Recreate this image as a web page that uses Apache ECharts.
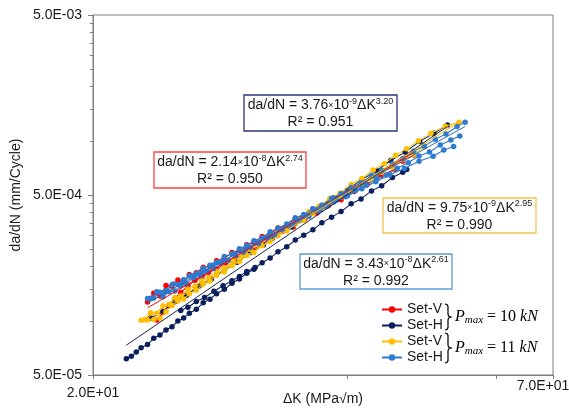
<!DOCTYPE html>
<html>
<head>
<meta charset="utf-8">
<script src="https://cdn.jsdelivr.net/npm/echarts@6/dist/echarts.min.js"></script>
<style>
  html, body { margin: 0; padding: 0; background: #fff; }
  #chart { width: 569px; height: 412px; }
</style>
</head>
<body>
<div id="chart"></div>
<script>
// Fatigue crack growth rate da/dN (mm/cycle) against ΔK (MPa√m), one pair of arrays per specimen run.

// Set-V, Pmax = 10 kN
const setV10_K_a = [23.2,23.6,24.0,24.4,24.8,25.2,25.6,26.0,26.5,27.0,27.5,28.0,28.6,29.2,29.8,30.4,31.0,31.7,32.4,33.1,33.9,34.7,35.5,36.4,37.3,38.3,39.3,40.4,41.5,42.7,43.9,45.2,46.5,47.9];
const setV10_rate_a = [1.274e-4,1.422e-4,1.372e-4,1.571e-4,1.558e-4,1.687e-4,1.669e-4,1.806e-4,1.852e-4,1.984e-4,2.012e-4,2.153e-4,2.219e-4,2.393e-4,2.460e-4,2.648e-4,2.715e-4,2.942e-4,3.034e-4,3.280e-4,3.401e-4,3.697e-4,3.860e-4,4.175e-4,4.377e-4,4.754e-4,5.003e-4,5.448e-4,5.746e-4,6.276e-4,6.637e-4,7.264e-4,7.693e-4,8.346e-4];
const setV10_K_b = [23.4,23.8,24.2,24.6,25.0,25.4,25.9,26.4,26.9,27.4,28.0,28.7,29.4,30.1,30.9,31.7,32.6,33.5,34.5,35.6,36.8,38.0,39.3,40.7,42.2,43.8,45.5];
const setV10_rate_b = [1.039e-4,1.012e-4,1.113e-4,1.219e-4,1.332e-4,1.437e-4,1.564e-4,1.681e-4,1.735e-4,1.862e-4,1.936e-4,2.092e-4,2.190e-4,2.360e-4,2.484e-4,2.692e-4,2.877e-4,3.132e-4,3.325e-4,3.662e-4,3.969e-4,4.380e-4,4.702e-4,5.230e-4,5.714e-4,6.394e-4,6.952e-4];

// Set-H, Pmax = 10 kN
const setH10_K_a = [21.9,22.2,22.5,22.8,23.2,23.6,24.0,24.4,24.8,25.2,25.6,26.0,26.5,27.0,27.5,28.0,28.6,29.2,29.8,30.4,31.0,31.7,32.4,33.1,33.9,34.7,35.5,36.4,37.3,38.3,39.3,40.4,41.5,42.7,43.9,45.2,46.5,47.0];
const setH10_rate_a = [6.150e-5,6.347e-5,6.706e-5,7.079e-5,7.396e-5,7.996e-5,8.342e-5,8.899e-5,9.265e-5,9.981e-5,1.0376e-4,1.1030e-4,1.1588e-4,1.2586e-4,1.3195e-4,1.4139e-4,1.4960e-4,1.6170e-4,1.7065e-4,1.8398e-4,1.9362e-4,2.1036e-4,2.2304e-4,2.4160e-4,2.5779e-4,2.8096e-4,2.9882e-4,3.2007e-4,3.5012e-4,3.7671e-4,4.0425e-4,4.4668e-4,4.7553e-4,5.2709e-4,5.6252e-4,6.2487e-4,6.6795e-4,6.918e-4];
const setH10_K_b = [25.4,25.9,26.5,27.1,27.8,28.5,29.2,29.8,30.4,31.1];
const setH10_rate_b = [1.142e-4,1.190e-4,1.280e-4,1.346e-4,1.461e-4,1.565e-4,1.672e-4,1.765e-4,1.882e-4,1.979e-4];
const setH10_K_c = [23.4,24.2,25.0,25.8,26.7,27.6,28.6,29.6,30.7,31.8,33.0,34.3,35.6,37.0,38.5,40.0,41.6,43.3,45.0,46.8,48.7,50.6,52.5];
const setH10_rate_c = [1.032e-4,1.129e-4,1.275e-4,1.386e-4,1.560e-4,1.704e-4,1.926e-4,2.112e-4,2.396e-4,2.633e-4,2.991e-4,3.324e-4,3.779e-4,4.198e-4,4.812e-4,5.337e-4,6.106e-4,6.814e-4,7.777e-4,8.653e-4,9.927e-4,1.100e-3,1.226e-3];

// Set-V, Pmax = 11 kN
const setV11_K_a = [22.8,23.2,23.6,24.0,24.4,24.8,25.2,25.6,26.0,26.5,27.0,27.5,28.0,28.6,29.2,29.8,30.4,31.0,31.7,32.4,33.1,33.9,34.7,35.5,36.4,37.3,38.3,39.3,40.4,41.5,42.7,43.9,45.2,46.5,47.9,49.3];
const setV11_rate_a = [1.008e-4,1.009e-4,1.018e-4,1.035e-4,1.123e-4,1.216e-4,1.288e-4,1.321e-4,1.412e-4,1.478e-4,1.595e-4,1.666e-4,1.793e-4,1.870e-4,2.029e-4,2.133e-4,2.308e-4,2.396e-4,2.613e-4,2.759e-4,2.968e-4,3.153e-4,3.446e-4,3.613e-4,3.928e-4,4.179e-4,4.565e-4,4.876e-4,5.238e-4,5.726e-4,6.102e-4,6.692e-4,7.142e-4,7.847e-4,8.389e-4,9.230e-4];
const setV11_K_b = [23.0,23.4,23.8,24.2,24.6,25.0,25.4,25.9,26.4,26.9,27.4,28.0,28.6,29.3,30.0,30.7,31.5,32.3,33.2,34.1,35.0,36.0,37.0,38.1,39.2,40.4,41.6,42.9,44.2,45.6,47.0,48.5,50.2,52.2,54.2];
const setV11_rate_b = [1.014e-4,1.110e-4,1.100e-4,1.213e-4,1.237e-4,1.349e-4,1.373e-4,1.498e-4,1.553e-4,1.674e-4,1.734e-4,1.884e-4,1.967e-4,2.154e-4,2.287e-4,2.496e-4,2.642e-4,2.899e-4,3.115e-4,3.404e-4,3.641e-4,4.032e-4,4.330e-4,4.766e-4,5.135e-4,5.719e-4,6.176e-4,6.890e-4,7.457e-4,8.327e-4,9.022e-4,9.992e-4,1.100e-3,1.206e-3,1.270e-3];

// Set-H, Pmax = 11 kN
const setH11_K_a = [23.2,23.6,24.0,24.4,24.8,25.2,25.6,26.0,26.5,27.0,27.5,28.0,28.6,29.2,29.8,30.4,31.0,31.7,32.4,33.1,33.9,34.7,35.5,36.4,37.3,38.3,39.3,40.4,41.5,42.7,43.9,45.2,46.5,47.9,49.3,50.8,52.3,53.9,55.1];
const setH11_rate_a = [1.332e-4,1.340e-4,1.442e-4,1.476e-4,1.586e-4,1.590e-4,1.690e-4,1.777e-4,1.831e-4,1.960e-4,2.036e-4,2.115e-4,2.279e-4,2.360e-4,2.512e-4,2.620e-4,2.784e-4,2.895e-4,3.125e-4,3.272e-4,3.449e-4,3.738e-4,3.890e-4,4.194e-4,4.382e-4,4.790e-4,5.075e-4,5.505e-4,5.847e-4,6.423e-4,6.838e-4,7.451e-4,7.949e-4,8.753e-4,9.344e-4,1.020e-3,1.091e-3,1.202e-3,1.270e-3];
const setH11_K_b = [24.2,24.6,25.0,25.4,25.8,26.3,26.8,27.3,27.8,28.3,28.9,29.5,30.1,30.7,31.4,32.1,32.8,33.5,34.3,35.1,36.0,36.9,37.8,38.8,39.8,40.9,42.1,43.3,44.5,45.8,47.2,48.6,50.0,51.5,53.0,54.3];
const setH11_rate_b = [1.361e-4,1.449e-4,1.466e-4,1.560e-4,1.608e-4,1.727e-4,1.776e-4,1.884e-4,1.955e-4,2.090e-4,2.163e-4,2.306e-4,2.405e-4,2.558e-4,2.686e-4,2.874e-4,2.979e-4,3.213e-4,3.382e-4,3.630e-4,3.799e-4,4.093e-4,4.315e-4,4.668e-4,4.886e-4,5.300e-4,5.656e-4,6.151e-4,6.468e-4,7.048e-4,7.545e-4,8.227e-4,8.674e-4,9.475e-4,1.010e-3,1.065e-3];
const setH11_K_c = [23.4,23.8,24.3,24.9,25.5,26.2,26.9,27.7,28.5,29.4,30.3,31.3,32.3,33.4,34.6,35.8,37.1,38.5,40.0,41.6,43.2,44.9,46.7,48.6,50.5,52.0,53.4];
const setH11_rate_c = [1.336e-4,1.452e-4,1.446e-4,1.603e-4,1.625e-4,1.778e-4,1.849e-4,2.036e-4,2.129e-4,2.355e-4,2.497e-4,2.746e-4,2.921e-4,3.221e-4,3.460e-4,3.822e-4,4.109e-4,4.574e-4,4.950e-4,5.423e-4,5.922e-4,6.480e-4,7.025e-4,7.707e-4,8.200e-4,8.884e-4,9.299e-4];

// Paris-law fits da/dN = C·ΔK^m, in the order red, navy, yellow, blue
const fitC  = [2.14e-8, 3.76e-9, 9.75e-9, 3.43e-8];
const fitM  = [2.74, 3.20, 2.95, 2.61];
const fitR2 = [0.950, 0.951, 0.990, 0.992];

// Axis ticks and labels
const xTickValues  = [20, 40, 60, 70];
const xLabelValues = [20, 70];
const xLabelTexts  = ['2.0E+01', '7.0E+01'];
const yLabelValues = [5e-5, 5e-4, 5e-3];
const yLabelTexts  = ['5.0E-05', '5.0E-04', '5.0E-03'];
const yMinorTicks  = [1e-4,1.5e-4,2e-4,2.5e-4,3e-4,3.5e-4,4e-4,4.5e-4,1e-3,1.5e-3,2e-3,2.5e-3,3e-3,3.5e-3,4e-3,4.5e-3];

const legendNames = ['Set-V (10 kN)', 'Set-H (10 kN)', 'Set-V (11 kN)', 'Set-H (11 kN)'];

const groups = [
  { name: legendNames[0], color: '#FF0000', runs: [[setV10_K_a, setV10_rate_a], [setV10_K_b, setV10_rate_b]] },
  { name: legendNames[1], color: '#0B1F5E', runs: [[setH10_K_a, setH10_rate_a], [setH10_K_b, setH10_rate_b], [setH10_K_c, setH10_rate_c]] },
  { name: legendNames[2], color: '#FFC000', runs: [[setV11_K_a, setV11_rate_a], [setV11_K_b, setV11_rate_b]] },
  { name: legendNames[3], color: '#2E7BCF', runs: [[setH11_K_a, setH11_rate_a], [setH11_K_b, setH11_rate_b], [setH11_K_c, setH11_rate_c]] }
];
const trendColors = ['#FF0000', '#1B2550', '#F5B800', '#2A6FB8'];
const boxBorders  = ['#FF4040', '#2B3478', '#F2C24A', '#5B9BD5'];

const FONT = '"Liberation Sans", Arial, sans-serif';
const TEXT = '#1a1a1a';

const series = [];
groups.forEach((g, gi) => {
  g.runs.forEach(([ks, rates]) => {
    series.push({
      name: g.name,
      type: 'line',
      data: ks.map((k, i) => [k, rates[i]]),
      symbol: 'circle',
      symbolSize: 5.5,
      itemStyle: { color: g.color },
      lineStyle: { color: g.color, width: 1.1 },
      z: 2 + gi,
      silent: true
    });
  });
});

// Power-law trend lines across each set's ΔK range (straight on log–log axes)
groups.forEach((g, gi) => {
  const allK = g.runs.reduce((acc, r) => acc.concat(r[0]), []);
  const k0 = Math.min.apply(null, allK), k1 = Math.max.apply(null, allK);
  series.push({
    name: 'trend-' + gi,
    type: 'line',
    data: [[k0, fitC[gi] * Math.pow(k0, fitM[gi])], [k1, fitC[gi] * Math.pow(k1, fitM[gi])]],
    symbol: 'none',
    lineStyle: { color: trendColors[gi], width: 1 },
    z: 10,
    silent: true
  });
});

// Equation boxes
function eqText(i) {
  const parts = fitC[i].toExponential(2).split('e');
  return '{t|da/dN = ' + parts[0] + '}{x|×}{t|10}{s|' + parts[1] + '}{t|ΔK}{s|' + fitM[i].toFixed(2) + '}\n{t|R² = ' + fitR2[i].toFixed(3) + '}';
}
const boxLayout = [
  { x: 154, y: 152, w: 152, h: 36 },
  { x: 244, y: 95,  w: 153, h: 36 },
  { x: 383, y: 198, w: 153, h: 35 },
  { x: 300, y: 254, w: 152, h: 35 }
];
const eqRich = {
  t: { fontSize: 14, fontFamily: FONT, color: TEXT, lineHeight: 17 },
  x: { fontSize: 9, fontFamily: FONT, color: TEXT, lineHeight: 17 },
  s: { fontSize: 9, fontFamily: FONT, color: TEXT, lineHeight: 10, verticalAlign: 'top' }
};
const graphics = [];
boxLayout.forEach((b, i) => {
  graphics.push({
    type: 'rect', z: 100,
    shape: { x: b.x, y: b.y, width: b.w, height: b.h },
    style: { fill: '#fff', stroke: boxBorders[i], lineWidth: 1.3 }
  });
  graphics.push({
    type: 'text', z: 101,
    x: b.x + b.w / 2, y: b.y + b.h / 2 + 1,
    style: { text: eqText(i), rich: eqRich, align: 'center', verticalAlign: 'middle', fill: TEXT }
  });
});

// Braces grouping the legend rows by load level
function bracePoints(x, y0, y1) {
  const ym = (y0 + y1) / 2;
  return [[x, y0], [x + 2, y0 + 0.6], [x + 3, y0 + 2.5], [x + 3, ym - 3], [x + 3.6, ym - 1], [x + 6, ym],
          [x + 3.6, ym + 1], [x + 3, ym + 3], [x + 3, y1 - 2.5], [x + 2, y1 - 0.6], [x, y1]];
}
const pmaxLoads = ['10', '11'];
const SERIF = '"Liberation Serif", "DejaVu Serif", serif';
const pmaxRich = {
  p: { fontSize: 16, fontFamily: SERIF, fontStyle: 'italic', color: TEXT, lineHeight: 18 },
  n: { fontSize: 16, fontFamily: SERIF, color: TEXT, lineHeight: 18 },
  b: { fontSize: 11, fontFamily: SERIF, fontStyle: 'italic', color: TEXT, lineHeight: 10, verticalAlign: 'bottom' }
};
[[304, 330], [333, 363]].forEach((yy, i) => {
  graphics.push({
    type: 'polyline', z: 100,
    shape: { points: bracePoints(445, yy[0], yy[1]) },
    style: { stroke: '#111', fill: null, lineWidth: 1.3 }
  });
  graphics.push({
    type: 'text', z: 100,
    x: 455, y: (yy[0] + yy[1]) / 2,
    style: { text: '{p|P}{b|max}{n| = ' + pmaxLoads[i] + ' }{p|kN}', rich: pmaxRich, verticalAlign: 'middle', align: 'left' }
  });
});

const axisGrey = '#7f7f7f';

const option = {
  animation: false,
  backgroundColor: '#fff',
  grid: {
    left: 93, right: 16, top: 15, bottom: 37,
    containLabel: false, outerBoundsMode: 'none',
    show: true, borderColor: axisGrey, borderWidth: 1, backgroundColor: 'transparent'
  },
  legend: {
    data: legendNames,
    orient: 'vertical',
    left: 381, top: 302, padding: 0,
    itemWidth: 20, itemHeight: 8, itemGap: 1,
    formatter: name => name.replace(/ \(.*\)$/, ''),
    textStyle: { fontSize: 14, fontFamily: FONT, color: TEXT, lineHeight: 15 },
    selectedMode: false
  },
  xAxis: {
    type: 'log', logBase: 10, min: 20, max: 70,
    name: 'ΔK (MPa√m)', nameLocation: 'middle', nameGap: 17, nameMoveOverlap: false,
    nameTextStyle: { fontSize: 14, fontFamily: FONT, color: TEXT },
    axisLine: { show: true, lineStyle: { color: axisGrey, width: 1 } },
    axisTick: { show: true, customValues: xTickValues, length: 4, lineStyle: { color: axisGrey } },
    axisLabel: {
      customValues: xLabelValues, margin: 3, verticalAlign: 'top',
      formatter: v => {
        const i = xLabelValues.findIndex(t => Math.abs(t - v) < 1e-6);
        return i === 0 ? '{a|' + xLabelTexts[0] + '}' : '{b|' + xLabelTexts[1] + '}';
      },
      rich: {
        a: { fontSize: 14, fontFamily: FONT, color: TEXT, lineHeight: 30 },
        b: { fontSize: 14, fontFamily: FONT, color: TEXT, lineHeight: 16, padding: [0, 20, 0, 0] }
      }
    },
    splitLine: { show: false }
  },
  yAxis: [{
    type: 'log', logBase: 10, min: 5e-5, max: 5e-3,
    name: 'da/dN (mm/Cycle)', nameLocation: 'middle', nameGap: 70, nameMoveOverlap: false,
    nameTextStyle: { fontSize: 14, fontFamily: FONT, color: TEXT },
    axisLine: { show: true, lineStyle: { color: axisGrey, width: 1 } },
    axisTick: { show: true, customValues: yLabelValues, length: 5, lineStyle: { color: axisGrey } },
    axisLabel: {
      customValues: yLabelValues, margin: 11,
      fontSize: 14, fontFamily: FONT, color: TEXT,
      formatter: v => {
        const i = yLabelValues.findIndex(t => Math.abs(Math.log10(t) - Math.log10(v)) < 1e-6);
        return i >= 0 ? yLabelTexts[i] : '';
      }
    },
    splitLine: { show: false }
  }, {
    type: 'log', logBase: 10, min: 5e-5, max: 5e-3, position: 'left',
    axisLine: { show: false },
    axisTick: { show: true, customValues: yMinorTicks, length: 3, lineStyle: { color: axisGrey } },
    axisLabel: { show: false },
    splitLine: { show: false }
  }],
  series: series,
  graphic: graphics
};

const chart = echarts.init(document.getElementById('chart'));
chart.setOption(option);
</script>
</body>
</html>
